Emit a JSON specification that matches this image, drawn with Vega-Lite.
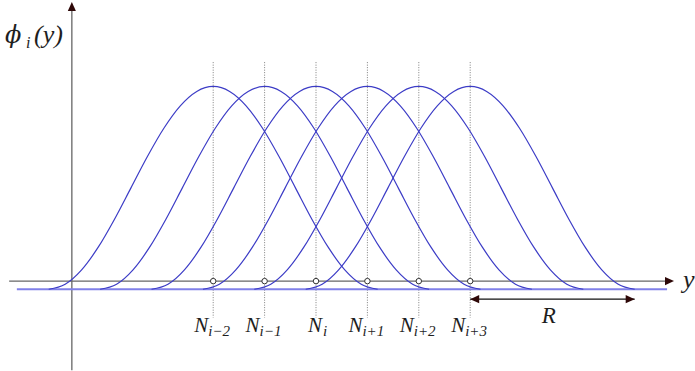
{
  "$schema": "https://vega.github.io/schema/vega-lite/v6.json",
  "width": 695,
  "height": 371,
  "padding": 0,
  "autosize": {"type": "fit", "contains": "padding"},
  "background": "white",
  "config": {"view": {"stroke": null}},
  "datasets": {
    "curves": [
      {"c": "i-2", "x": -5.2, "y": 0}, {"c": "i-2", "x": -4.88, "y": 0.0245}, {"c": "i-2", "x": -4.56, "y": 0.0955}, {"c": "i-2", "x": -4.24, "y": 0.2061}, {"c": "i-2", "x": -3.92, "y": 0.3455}, {"c": "i-2", "x": -3.6, "y": 0.5}, {"c": "i-2", "x": -3.28, "y": 0.6545}, {"c": "i-2", "x": -2.96, "y": 0.7939}, {"c": "i-2", "x": -2.64, "y": 0.9045}, {"c": "i-2", "x": -2.32, "y": 0.9755}, {"c": "i-2", "x": -2, "y": 1}, {"c": "i-2", "x": -1.68, "y": 0.9755}, {"c": "i-2", "x": -1.36, "y": 0.9045}, {"c": "i-2", "x": -1.04, "y": 0.7939}, {"c": "i-2", "x": -0.72, "y": 0.6545}, {"c": "i-2", "x": -0.4, "y": 0.5}, {"c": "i-2", "x": -0.08, "y": 0.3455}, {"c": "i-2", "x": 0.24, "y": 0.2061}, {"c": "i-2", "x": 0.56, "y": 0.0955}, {"c": "i-2", "x": 0.88, "y": 0.0245}, {"c": "i-2", "x": 1.2, "y": 0},
      {"c": "i-1", "x": -4.2, "y": 0}, {"c": "i-1", "x": -3.88, "y": 0.0245}, {"c": "i-1", "x": -3.56, "y": 0.0955}, {"c": "i-1", "x": -3.24, "y": 0.2061}, {"c": "i-1", "x": -2.92, "y": 0.3455}, {"c": "i-1", "x": -2.6, "y": 0.5}, {"c": "i-1", "x": -2.28, "y": 0.6545}, {"c": "i-1", "x": -1.96, "y": 0.7939}, {"c": "i-1", "x": -1.64, "y": 0.9045}, {"c": "i-1", "x": -1.32, "y": 0.9755}, {"c": "i-1", "x": -1, "y": 1}, {"c": "i-1", "x": -0.68, "y": 0.9755}, {"c": "i-1", "x": -0.36, "y": 0.9045}, {"c": "i-1", "x": -0.04, "y": 0.7939}, {"c": "i-1", "x": 0.28, "y": 0.6545}, {"c": "i-1", "x": 0.6, "y": 0.5}, {"c": "i-1", "x": 0.92, "y": 0.3455}, {"c": "i-1", "x": 1.24, "y": 0.2061}, {"c": "i-1", "x": 1.56, "y": 0.0955}, {"c": "i-1", "x": 1.88, "y": 0.0245}, {"c": "i-1", "x": 2.2, "y": 0},
      {"c": "i", "x": -3.2, "y": 0}, {"c": "i", "x": -2.88, "y": 0.0245}, {"c": "i", "x": -2.56, "y": 0.0955}, {"c": "i", "x": -2.24, "y": 0.2061}, {"c": "i", "x": -1.92, "y": 0.3455}, {"c": "i", "x": -1.6, "y": 0.5}, {"c": "i", "x": -1.28, "y": 0.6545}, {"c": "i", "x": -0.96, "y": 0.7939}, {"c": "i", "x": -0.64, "y": 0.9045}, {"c": "i", "x": -0.32, "y": 0.9755}, {"c": "i", "x": 0, "y": 1}, {"c": "i", "x": 0.32, "y": 0.9755}, {"c": "i", "x": 0.64, "y": 0.9045}, {"c": "i", "x": 0.96, "y": 0.7939}, {"c": "i", "x": 1.28, "y": 0.6545}, {"c": "i", "x": 1.6, "y": 0.5}, {"c": "i", "x": 1.92, "y": 0.3455}, {"c": "i", "x": 2.24, "y": 0.2061}, {"c": "i", "x": 2.56, "y": 0.0955}, {"c": "i", "x": 2.88, "y": 0.0245}, {"c": "i", "x": 3.2, "y": 0},
      {"c": "i+1", "x": -2.2, "y": 0}, {"c": "i+1", "x": -1.88, "y": 0.0245}, {"c": "i+1", "x": -1.56, "y": 0.0955}, {"c": "i+1", "x": -1.24, "y": 0.2061}, {"c": "i+1", "x": -0.92, "y": 0.3455}, {"c": "i+1", "x": -0.6, "y": 0.5}, {"c": "i+1", "x": -0.28, "y": 0.6545}, {"c": "i+1", "x": 0.04, "y": 0.7939}, {"c": "i+1", "x": 0.36, "y": 0.9045}, {"c": "i+1", "x": 0.68, "y": 0.9755}, {"c": "i+1", "x": 1, "y": 1}, {"c": "i+1", "x": 1.32, "y": 0.9755}, {"c": "i+1", "x": 1.64, "y": 0.9045}, {"c": "i+1", "x": 1.96, "y": 0.7939}, {"c": "i+1", "x": 2.28, "y": 0.6545}, {"c": "i+1", "x": 2.6, "y": 0.5}, {"c": "i+1", "x": 2.92, "y": 0.3455}, {"c": "i+1", "x": 3.24, "y": 0.2061}, {"c": "i+1", "x": 3.56, "y": 0.0955}, {"c": "i+1", "x": 3.88, "y": 0.0245}, {"c": "i+1", "x": 4.2, "y": 0},
      {"c": "i+2", "x": -1.2, "y": 0}, {"c": "i+2", "x": -0.88, "y": 0.0245}, {"c": "i+2", "x": -0.56, "y": 0.0955}, {"c": "i+2", "x": -0.24, "y": 0.2061}, {"c": "i+2", "x": 0.08, "y": 0.3455}, {"c": "i+2", "x": 0.4, "y": 0.5}, {"c": "i+2", "x": 0.72, "y": 0.6545}, {"c": "i+2", "x": 1.04, "y": 0.7939}, {"c": "i+2", "x": 1.36, "y": 0.9045}, {"c": "i+2", "x": 1.68, "y": 0.9755}, {"c": "i+2", "x": 2, "y": 1}, {"c": "i+2", "x": 2.32, "y": 0.9755}, {"c": "i+2", "x": 2.64, "y": 0.9045}, {"c": "i+2", "x": 2.96, "y": 0.7939}, {"c": "i+2", "x": 3.28, "y": 0.6545}, {"c": "i+2", "x": 3.6, "y": 0.5}, {"c": "i+2", "x": 3.92, "y": 0.3455}, {"c": "i+2", "x": 4.24, "y": 0.2061}, {"c": "i+2", "x": 4.56, "y": 0.0955}, {"c": "i+2", "x": 4.88, "y": 0.0245}, {"c": "i+2", "x": 5.2, "y": 0},
      {"c": "i+3", "x": -0.2, "y": 0}, {"c": "i+3", "x": 0.12, "y": 0.0245}, {"c": "i+3", "x": 0.44, "y": 0.0955}, {"c": "i+3", "x": 0.76, "y": 0.2061}, {"c": "i+3", "x": 1.08, "y": 0.3455}, {"c": "i+3", "x": 1.4, "y": 0.5}, {"c": "i+3", "x": 1.72, "y": 0.6545}, {"c": "i+3", "x": 2.04, "y": 0.7939}, {"c": "i+3", "x": 2.36, "y": 0.9045}, {"c": "i+3", "x": 2.68, "y": 0.9755}, {"c": "i+3", "x": 3, "y": 1}, {"c": "i+3", "x": 3.32, "y": 0.9755}, {"c": "i+3", "x": 3.64, "y": 0.9045}, {"c": "i+3", "x": 3.96, "y": 0.7939}, {"c": "i+3", "x": 4.28, "y": 0.6545}, {"c": "i+3", "x": 4.6, "y": 0.5}, {"c": "i+3", "x": 4.92, "y": 0.3455}, {"c": "i+3", "x": 5.24, "y": 0.2061}, {"c": "i+3", "x": 5.56, "y": 0.0955}, {"c": "i+3", "x": 5.88, "y": 0.0245}, {"c": "i+3", "x": 6.2, "y": 0}
    ],
    "gridlines": [
      {"x": -2, "y": 1.12, "y2": -0.14}, {"x": -1, "y": 1.12, "y2": -0.14}, {"x": 0, "y": 1.12, "y2": -0.14},
      {"x": 1, "y": 1.12, "y2": -0.14}, {"x": 2, "y": 1.12, "y2": -0.14}, {"x": 3, "y": 1.12, "y2": -0.14}
    ],
    "nodes": [
      {"x": -2, "y": 0.04}, {"x": -1, "y": 0.04}, {"x": 0, "y": 0.04},
      {"x": 1, "y": 0.04}, {"x": 2, "y": 0.04}, {"x": 3, "y": 0.04}
    ],
    "labels": [
      {"x": -2, "y": -0.2115, "s": "i−2"}, {"x": -1, "y": -0.2115, "s": "i−1"}, {"x": 0, "y": -0.2115, "s": "i"},
      {"x": 1, "y": -0.2115, "s": "i+1"}, {"x": 2, "y": -0.2115, "s": "i+2"}, {"x": 3, "y": -0.2115, "s": "i+3"}
    ],
    "axes": [
      {"x": -5.97, "y": 0.04, "x2": 6.85, "y2": 0.04},
      {"x": -4.75, "y": -0.4, "x2": -4.75, "y2": 1.39}
    ],
    "support": [{"x": -5.82, "y": 0, "x2": 6.83, "y2": 0}],
    "span": [{"x": 3, "y": -0.049, "x2": 6.2, "y2": -0.049}],
    "heads_right": [{"x": 6.965, "y": 0.04}, {"x": 6.2, "y": -0.049}],
    "heads_left": [{"x": 3, "y": -0.049}],
    "heads_up": [{"x": -4.75, "y": 1.4166}],
    "ylabel": [{"x": -6.05, "y": 1.215}],
    "xlabel": [{"x": 7.14, "y": 0.005}],
    "rlabel": [{"x": 4.53, "y": -0.167}]
  },
  "encoding": {
    "x": {"field": "x", "type": "quantitative", "axis": null, "scale": {"domain": [-6.1479, 7.3735], "nice": false, "zero": false}},
    "y": {"field": "y", "type": "quantitative", "axis": null, "scale": {"domain": [-0.3984, 1.4265], "nice": false, "zero": false}}
  },
  "layer": [
    {
      "data": {"name": "gridlines"},
      "mark": {"type": "rule", "color": "#7d7d7d", "strokeWidth": 1, "strokeDash": [1, 1.5]},
      "encoding": {"y2": {"field": "y2"}}
    },
    {
      "data": {"name": "axes"},
      "mark": {"type": "rule", "color": "#666666", "strokeWidth": 1.3},
      "encoding": {"x2": {"field": "x2"}, "y2": {"field": "y2"}}
    },
    {
      "data": {"name": "support"},
      "mark": {"type": "rule", "color": "#8080e8", "strokeWidth": 2},
      "encoding": {"x2": {"field": "x2"}, "y2": {"field": "y2"}}
    },
    {
      "data": {"name": "curves"},
      "mark": {"type": "line", "color": "#3c3cc6", "strokeWidth": 1.2, "interpolate": "monotone"},
      "encoding": {"detail": {"field": "c"}}
    },
    {
      "data": {"name": "nodes"},
      "mark": {"type": "point", "shape": "circle", "size": 30, "filled": false, "fill": "white", "fillOpacity": 1, "stroke": "#333333", "strokeWidth": 1, "opacity": 1}
    },
    {
      "data": {"name": "span"},
      "mark": {"type": "rule", "color": "#111111", "strokeWidth": 1.3},
      "encoding": {"x2": {"field": "x2"}, "y2": {"field": "y2"}}
    },
    {
      "data": {"name": "heads_right"},
      "mark": {"type": "point", "shape": "M-2,-0.9L0,0L-2,0.9Z", "size": 81, "filled": true, "color": "#2e0808", "opacity": 1}
    },
    {
      "data": {"name": "heads_left"},
      "mark": {"type": "point", "shape": "M2,-0.9L0,0L2,0.9Z", "size": 81, "filled": true, "color": "#2e0808", "opacity": 1}
    },
    {
      "data": {"name": "heads_up"},
      "mark": {"type": "point", "shape": "M-0.9,2L0,0L0.9,2Z", "size": 81, "filled": true, "color": "#2e0808", "opacity": 1}
    },
    {
      "data": {"name": "labels"},
      "transform": [{"filter": "datum.x != 0"}],
      "mark": {"type": "text", "text": "N", "font": "Liberation Serif", "fontStyle": "italic", "color": "#1e1e1e", "baseline": "alphabetic", "fontSize": 21, "align": "right", "dx": -5}
    },
    {
      "data": {"name": "labels"},
      "transform": [{"filter": "datum.x != 0"}],
      "mark": {"type": "text", "font": "Liberation Serif", "fontStyle": "italic", "color": "#1e1e1e", "baseline": "alphabetic", "fontSize": 15, "align": "left", "dx": -5, "dy": 4},
      "encoding": {"text": {"field": "s"}}
    },
    {
      "data": {"name": "labels"},
      "transform": [{"filter": "datum.x == 0"}],
      "mark": {"type": "text", "text": "N", "font": "Liberation Serif", "fontStyle": "italic", "color": "#1e1e1e", "baseline": "alphabetic", "fontSize": 21, "align": "right", "dx": 6}
    },
    {
      "data": {"name": "labels"},
      "transform": [{"filter": "datum.x == 0"}],
      "mark": {"type": "text", "font": "Liberation Serif", "fontStyle": "italic", "color": "#1e1e1e", "baseline": "alphabetic", "fontSize": 15, "align": "left", "dx": 7, "dy": 4},
      "encoding": {"text": {"field": "s"}}
    },
    {
      "data": {"name": "ylabel"},
      "mark": {"type": "text", "text": "ϕ", "font": "DejaVu Serif", "fontStyle": "italic", "color": "#1e1e1e", "baseline": "alphabetic", "fontSize": 24, "align": "left"}
    },
    {
      "data": {"name": "ylabel"},
      "mark": {"type": "text", "text": "i", "font": "Liberation Serif", "fontStyle": "italic", "color": "#1e1e1e", "baseline": "alphabetic", "fontSize": 16, "align": "left", "dx": 21, "dy": 5}
    },
    {
      "data": {"name": "ylabel"},
      "mark": {"type": "text", "text": "(y)", "font": "Liberation Serif", "fontStyle": "italic", "color": "#1e1e1e", "baseline": "alphabetic", "fontSize": 26, "align": "left", "dx": 29}
    },
    {
      "data": {"name": "xlabel"},
      "mark": {"type": "text", "text": "y", "font": "Liberation Serif", "fontStyle": "italic", "color": "#1e1e1e", "baseline": "alphabetic", "fontSize": 26, "align": "left"}
    },
    {
      "data": {"name": "rlabel"},
      "mark": {"type": "text", "text": "R", "font": "Liberation Serif", "fontStyle": "italic", "color": "#1e1e1e", "baseline": "alphabetic", "fontSize": 23, "align": "center"}
    }
  ]
}
